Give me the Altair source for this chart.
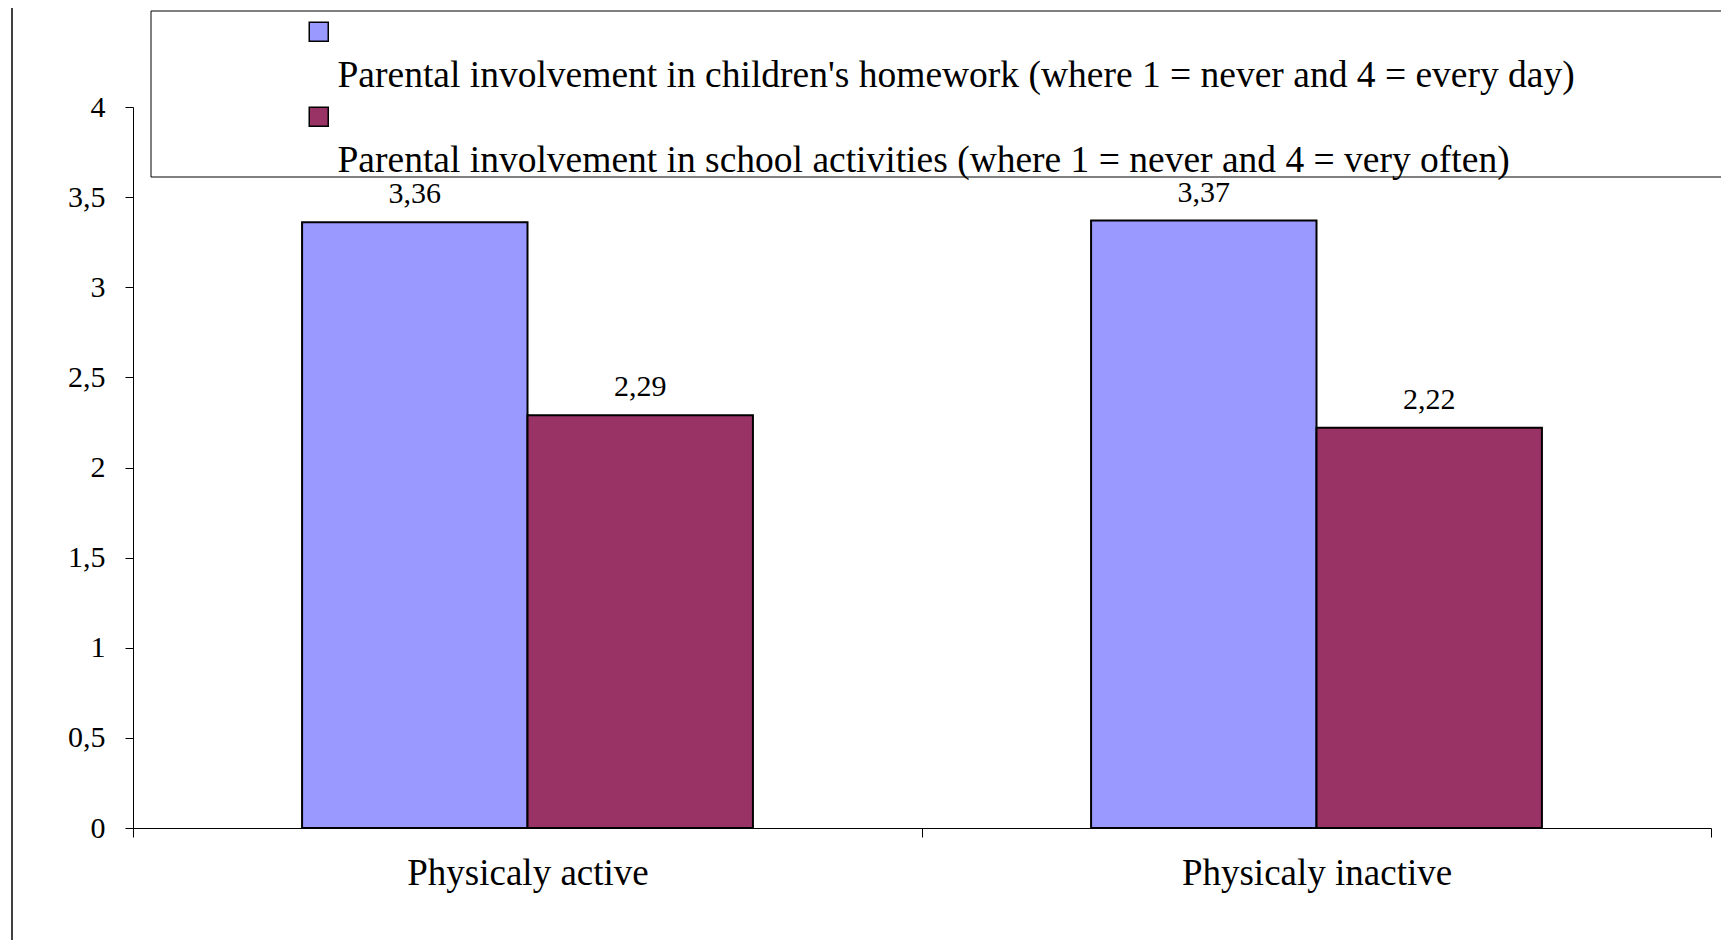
import altair as alt
import pandas as pd

categories = ["Physicaly active", "Physicaly inactive"]
series = [
    "Parental involvement in children's homework (where 1 = never and 4 = every day)",
    "Parental involvement in school activities (where 1 = never and 4 = very often)",
]
homework = [3.36, 3.37]
school = [2.29, 2.22]
colors = ["#9999FF", "#993366"]
y_ticks = [0, 0.5, 1, 1.5, 2, 2.5, 3, 3.5, 4]

rows = []
for i, c in enumerate(categories):
    rows.append({"category": c, "series": series[0], "value": homework[i]})
    rows.append({"category": c, "series": series[1], "value": school[i]})
df = pd.DataFrame(rows)
one = pd.DataFrame({"a": [0]})

FONT = "Liberation Serif"

x_enc = alt.X(
    "category:N",
    scale=alt.Scale(domain=categories, paddingInner=0, paddingOuter=0),
    axis=alt.Axis(
        title=None, labelAngle=0, tickBand="extent", tickSize=9,
        labelFontSize=37, labelFont=FONT, labelColor="black", labelPadding=18,
        labelLimit=0, domainColor="black", tickColor="black", grid=False,
    ),
)
xo_enc = alt.XOffset("series:N", scale=alt.Scale(domain=series, paddingInner=0, paddingOuter=0.75))
y_enc = alt.Y(
    "value:Q",
    scale=alt.Scale(domain=[0, 4], nice=False),
    axis=alt.Axis(
        title=None, values=y_ticks, tickSize=8, labelFontSize=30, labelFont=FONT,
        labelColor="black", labelPadding=20, domainColor="black", tickColor="black",
        grid=False, labelExpr="replace(format(datum.value, '~g'), '.', ',')",
    ),
)

base = alt.Chart(df).encode(x=x_enc, xOffset=xo_enc, y=y_enc)

bars = base.mark_bar(stroke="black", strokeWidth=2).encode(
    color=alt.Color(
        "series:N",
        scale=alt.Scale(domain=series, range=colors),
        legend=alt.Legend(
            title=None, orient="none", legendX=167, legendY=-94,
            symbolType="square", symbolSize=361, symbolStrokeColor="black",
            symbolStrokeWidth=1.5, labelFont=FONT, labelFontSize=37.5,
            labelColor="black", labelOffset=0, labelLimit=0, padding=0,
            rowPadding=-9, labelBaseline="alphabetic",
            labelExpr="['', datum.label]",
        ),
    )
)

labels = base.mark_text(
    dy=-19, baseline="alphabetic", fontSize=30, font=FONT, color="black"
).transform_calculate(
    lbl="replace(format(datum.value, '.2f'), '.', ',')"
).encode(text="lbl:N")

box = alt.Chart(one).mark_rect(fill="white", stroke="black", strokeWidth=1).encode(
    x=alt.value(18), x2=alt.value(1589), y=alt.value(-96), y2=alt.value(70)
)
frame = alt.Chart(one).mark_rule(color="black", strokeWidth=1.5).encode(
    x=alt.value(-121), y=alt.value(-107), y2=alt.value(835)
)

chart = alt.layer(frame, box, bars, labels).properties(
    width=1578, height=721,
    autosize=alt.AutoSizeParams(type="none"),
    padding={"left": 125, "top": 99, "right": 10, "bottom": 112},
).configure(style={"guide-label": {"lineHeight": 55}}).configure_view(strokeWidth=0)

chart.save("out.html", embed_options={"renderer": "svg", "actions": False})
